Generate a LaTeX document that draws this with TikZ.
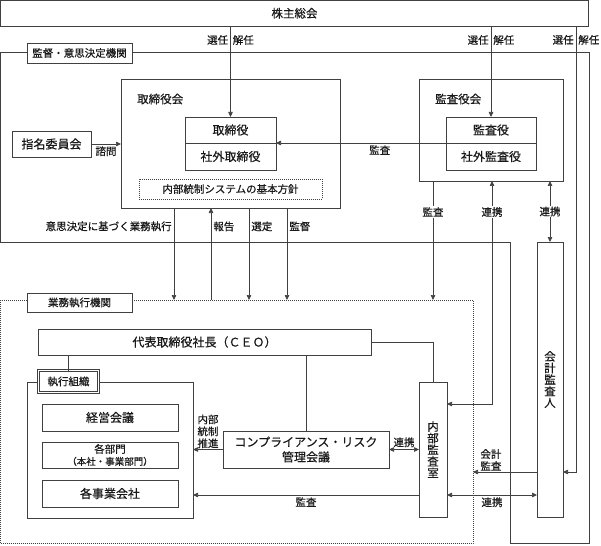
\documentclass[tikz,border=0pt]{standalone}
\usepackage{fontspec}
\setmainfont{Noto Sans CJK JP}[FakeBold=0.4]
\usetikzlibrary{arrows.meta}

\begin{document}
\begin{tikzpicture}[x=1pt,y=-1pt]
  \tikzset{BoxStyle/.style = {
    shape         = rectangle,
    draw          = black!75,
    fill          = white,
    line width    = 0.7pt,
    text          = black!90,
    inner sep     = 0pt,
    outer sep     = 0pt,
    font          = \fontsize{12}{14}\selectfont
    }
  }
  \tikzset{VertBoxStyle/.style = {
    BoxStyle,
    align         = center,
    font          = \fontsize{11.5}{11.6}\selectfont
    }
  }
  \tikzset{TagStyle/.style = {
    BoxStyle,
    font          = \fontsize{10.5}{12}\selectfont
    }
  }
  \tikzset{DoubleTagStyle/.style = {
    TagStyle,
    line width      = 0.6pt,
    double          = white,
    double distance = 1.2pt
    }
  }
  \tikzset{PolicyStyle/.style = {
    BoxStyle,
    dash pattern  = on 0.8pt off 1.2pt,
    font          = \fontsize{10.5}{12}\selectfont
    }
  }
  \tikzset{TitleStyle/.style = {
    anchor        = west,
    inner sep     = 0pt,
    text          = black!90,
    font          = \fontsize{11.5}{13}\selectfont
    }
  }
  \tikzset{RegionStyle/.style = {
    draw          = black!75,
    line width    = 0.7pt
    }
  }
  \tikzset{DottedRegion/.style = {
    shape         = rectangle,
    draw          = black!75,
    line width    = 0.7pt,
    dash pattern  = on 0.8pt off 1.2pt,
    inner sep     = 0pt,
    outer sep     = 0pt
    }
  }
  \tikzset{LineStyle/.style = {
    draw          = black!75,
    line width    = 0.7pt
    }
  }
  \tikzset{EdgeArrow/.style = {
    LineStyle,
    -{Triangle[length=5pt,width=4.5pt]}
    }
  }
  \tikzset{EdgeBoth/.style = {
    LineStyle,
    {Triangle[length=5pt,width=4.5pt]}-{Triangle[length=5pt,width=4.5pt]}
    }
  }
  \tikzset{EdgeText/.style = {
    inner sep     = 2pt,
    text          = black!90,
    font          = \fontsize{10.5}{12}\selectfont
    }
  }
  \tikzset{EdgeOnLine/.style = {
    EdgeText,
    fill          = white,
    inner sep     = 1pt
    }
  }

  \useasboundingbox (0,0) rectangle (601,545);

  % regions
  \draw[RegionStyle] (0.5,52) -- (589,52) -- (589,543) -- (510,543) -- (510,242) -- (0.5,242) -- cycle;
  \node[DottedRegion, minimum width=472.5pt, minimum height=243pt] (gyomu) at (236.75,421.5) {};

  \node[BoxStyle, minimum width=588pt, minimum height=25.5pt, font=\fontsize{11.5}{13}\selectfont] (kabunushi) at (294.5,13.25) {株主総会};
  \node[TagStyle, minimum width=105pt, minimum height=20pt] (kantokuTag) at (79.5,53) {監督・意思決定機関};
  \node[TagStyle, minimum width=105pt, minimum height=19pt] (gyomuTag) at (79.5,302.5) {業務執行機関};

  % 取締役会
  \node[BoxStyle, minimum width=219pt, minimum height=129pt] (torikai) at (230.5,143.5) {};
  \node[TitleStyle] (torikaiTitle) at (137,99) {取締役会};
  \node[BoxStyle, minimum width=91pt, minimum height=26pt] (tori) at (230.5,130) {取締役};
  \node[BoxStyle, minimum width=91pt, minimum height=27pt] (shagaiTori) at (230.5,156.5) {社外取締役};
  \node[PolicyStyle, minimum width=183pt, minimum height=20pt] (policy) at (230.5,189) {内部統制システムの基本方針};
  \node[BoxStyle, minimum width=79pt, minimum height=26pt] (shimei) at (51.5,144) {指名委員会};

  % 監査役会
  \node[BoxStyle, minimum width=144pt, minimum height=102pt] (kansakai) at (491,130) {};
  \node[TitleStyle] (kansakaiTitle) at (435,99) {監査役会};
  \node[BoxStyle, minimum width=90pt, minimum height=26pt] (kansa) at (491,130) {監査役};
  \node[BoxStyle, minimum width=90pt, minimum height=27pt] (shagaiKansa) at (491,156.5) {社外監査役};

  % 業務執行
  \node[BoxStyle, minimum width=333pt, minimum height=26pt] (ceo) at (204.5,342) {代表取締役社長（ＣＥＯ）};
  \node[BoxStyle, minimum width=166pt, minimum height=136pt] (shikko) at (110,450) {};
  \node[DoubleTagStyle, minimum width=60pt, minimum height=22pt] (shikkoTag) at (68.5,381.5) {執行組織};
  \node[BoxStyle, minimum width=136pt, minimum height=27pt] (keiei) at (110,417.5) {経営会議};
  \node[BoxStyle, minimum width=136pt, minimum height=26pt, align=center, font=\fontsize{10.5}{12}\selectfont] (bumon) at (110,455) {各部門\\{\fontsize{9.5}{10}\selectfont （本社・事業部門）}};
  \node[BoxStyle, minimum width=136pt, minimum height=27pt] (jigyo) at (110,493.5) {各事業会社};
  \node[BoxStyle, minimum width=166pt, minimum height=37pt, align=center, font=\fontsize{12}{15}\selectfont] (comp) at (306,449.5) {コンプライアンス・リスク\\管理会議};
  \node[VertBoxStyle, minimum width=28pt, minimum height=135pt] (naibu) at (433,449.5) {内\\部\\監\\査\\室};
  \node[VertBoxStyle, minimum width=26pt, minimum height=275pt] (kaikei) at (550,379.5) {会\\計\\監\\査\\人};

  \coordinate (lineA) at (174,0);
  \coordinate (lineB) at (211,0);
  \coordinate (lineC) at (249,0);
  \coordinate (lineD) at (287,0);
  \coordinate (lineE) at (433,0);
  \coordinate (kaikeiTurn) at (576,472);
  \coordinate (renkeiTurn) at (492,404);
  \coordinate (rowKansa) at (0,495);
  \coordinate (rowKaikei) at (0,472);

  % 株主総会から
  \draw[EdgeArrow] (kabunushi.south -| tori.north) -- node[EdgeText, pos=0.154, left]{選任} node[EdgeText, pos=0.154, right]{解任} (tori.north);
  \draw[EdgeArrow] (kabunushi.south -| kansa.north) -- node[EdgeText, pos=0.154, left]{選任} node[EdgeText, pos=0.154, right]{解任} (kansa.north);
  \draw[EdgeArrow] (kabunushi.south -| kaikeiTurn) -- node[EdgeText, pos=0.031, left]{選任} node[EdgeText, pos=0.031, right]{解任} (kaikeiTurn) -- (kaikei.east |- kaikeiTurn);

  \draw[EdgeArrow] (shimei.east) -- node[EdgeText, below]{諮問} (shimei.east -| torikai.west);
  \draw[EdgeArrow] (kansa.south west) -- node[EdgeText, below, pos=0.39]{監査} (tori.south east);

  % 取締役会から業務執行機関へ
  \draw[EdgeArrow] (torikai.south -| lineA) -- node[EdgeText, left, pos=0.2]{意思決定に基づく業務執行} (gyomu.north -| lineA);
  \draw[EdgeArrow] (gyomu.north -| lineB) -- node[EdgeText, right, pos=0.8]{報告} (torikai.south -| lineB);
  \draw[EdgeArrow] (torikai.south -| lineC) -- node[EdgeText, right, pos=0.2]{選定} (gyomu.north -| lineC);
  \draw[EdgeArrow] (torikai.south -| lineD) -- node[EdgeText, right, pos=0.2]{監督} (gyomu.north -| lineD);

  % 監査役会から
  \draw[EdgeArrow] (kansakai.south -| lineE) -- node[EdgeOnLine, pos=0.26]{監査} (gyomu.north -| lineE);
  \draw[EdgeBoth] (kansakai.south -| renkeiTurn) -- node[EdgeOnLine, pos=0.139]{連携} (renkeiTurn) -- (naibu.east |- renkeiTurn);
  \draw[EdgeBoth] (kansakai.south -| kaikei.north) -- node[EdgeOnLine]{連携} (kaikei.north);

  % 代表取締役社長から
  \draw[LineStyle] (ceo.east) -| (naibu.north);
  \draw[LineStyle] (ceo.south -| shikkoTag.north) -- (shikkoTag.north);
  \draw[LineStyle] (ceo.south -| comp.north) -- (comp.north);

  \draw[EdgeArrow] (comp.west) -- node[EdgeText, above, align=center, inner sep=1pt]{内部\\統制\\推進} (comp.west -| shikko.east);
  \draw[EdgeBoth] (comp.east) -- node[EdgeText, above]{連携} (comp.east -| naibu.west);
  \draw[EdgeArrow] (naibu.west |- rowKansa) -- node[EdgeText, below]{監査} (shikko.east |- rowKansa);
  \draw[EdgeBoth] (naibu.east |- rowKansa) -- node[EdgeText, below]{連携} (kaikei.west |- rowKansa);
  \draw[EdgeArrow] (kaikei.west |- rowKaikei) -- node[EdgeText, above, pos=0.72, align=center, inner sep=1pt]{会計\\監査} (gyomu.east |- rowKaikei);

\end{tikzpicture}
\end{document}
